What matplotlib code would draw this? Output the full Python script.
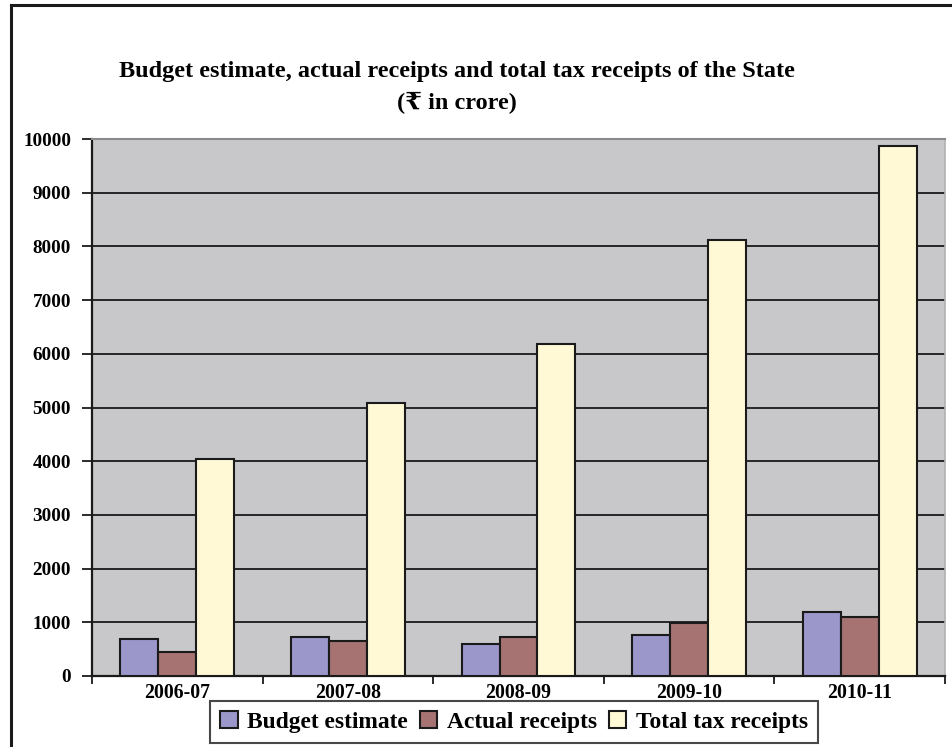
import matplotlib
matplotlib.use("Agg")
import matplotlib.pyplot as plt
from matplotlib.lines import Line2D
import numpy as np

categories = ["2006-07", "2007-08", "2008-09", "2009-10", "2010-11"]
budget_estimate = [690, 720, 595, 765, 1200]
actual_receipts = [450, 650, 720, 990, 1090]
total_tax_receipts = [4040, 5090, 6190, 8110, 9870]
series_names = ["Budget estimate", "Actual receipts", "Total tax receipts"]
y_ticks = [0, 1000, 2000, 3000, 4000, 5000, 6000, 7000, 8000, 9000, 10000]

colors = ["#9c97cb", "#a67272", "#fff9d6"]
FONT = ["Liberation Serif", "DejaVu Serif", "DejaVu Sans"]
plt.rcParams['font.family'] = FONT
plt.rcParams['font.weight'] = 'bold'

W, H = 953, 747
fig = plt.figure(figsize=(W / 100, H / 100), dpi=100)
ax = fig.add_axes([92 / W, (H - 676) / H, (945 - 92) / W, (676 - 139) / H])
ax.set_facecolor("#c8c8ca")

x = np.arange(len(categories))
bw = 0.222
series = [budget_estimate, actual_receipts, total_tax_receipts]
for i, (vals, c, name) in enumerate(zip(series, colors, series_names)):
    ax.bar(x + (i - 1) * bw, vals, width=bw, color=c, edgecolor="#1a1a1a",
           linewidth=1.5, label=name, zorder=3)

ax.set_xlim(-0.5, len(categories) - 0.5)
ax.set_ylim(0, 10000)
ax.set_yticks(y_ticks)
ax.set_yticklabels([str(v) for v in y_ticks], fontsize=13.8, fontweight='bold')
ax.yaxis.grid(True, color="#1a1a1a", linewidth=1.3, zorder=1)
ax.set_axisbelow(True)

ax.set_xticks(x)
ax.set_xticklabels(categories, fontsize=14.2, fontweight='bold')
ax.tick_params(axis='x', length=0, pad=5)
ax.set_xticks(np.arange(-0.5, len(categories)), minor=True)
ax.tick_params(axis='x', which='minor', length=6, width=1.3, color="#1a1a1a")
ax.tick_params(axis='y', length=7, width=1.3, color="#1a1a1a", pad=8)

for s in ["left", "bottom"]:
    ax.spines[s].set_color("#1a1a1a")
    ax.spines[s].set_linewidth(1.6)
ax.spines["top"].set_color("#8a8a8a")
ax.spines["top"].set_linewidth(1.5)
ax.spines["right"].set_color("#b0b0b0")
ax.spines["right"].set_linewidth(1.2)

fig.text(457 / W, 1 - 72 / H,
         "Budget estimate, actual receipts and total tax receipts of the State",
         ha="center", va="center", fontsize=17.5, fontweight='bold', family=FONT)
fig.text(457 / W, 1 - 103 / H, "(\u20b9 in crore)", ha="center", va="center",
         fontsize=17.5, fontweight='bold', family=FONT)

leg = fig.legend(loc="center", bbox_to_anchor=(514 / W, 1 - 722 / H), ncol=3,
                 frameon=True, fancybox=False, handlelength=0.75,
                 handleheight=0.75, handletextpad=0.4, columnspacing=0.5,
                 borderpad=0.42, borderaxespad=0.0,
                 prop={'weight': 'bold', 'size': 16.9, 'family': FONT})
leg.get_frame().set_edgecolor("#1a1a1a")
leg.get_frame().set_linewidth(1.5)

# outer frame lines (top and left)
fig.add_artist(Line2D([11 / W, 1.0], [1 - 5 / H, 1 - 5 / H], color="#1a1a1a",
                      linewidth=2.2, transform=fig.transFigure))
fig.add_artist(Line2D([11 / W, 11 / W], [1 - 5 / H, 0], color="#1a1a1a",
                      linewidth=2.2, transform=fig.transFigure))

fig.savefig("out.png", dpi=100, facecolor="white")
